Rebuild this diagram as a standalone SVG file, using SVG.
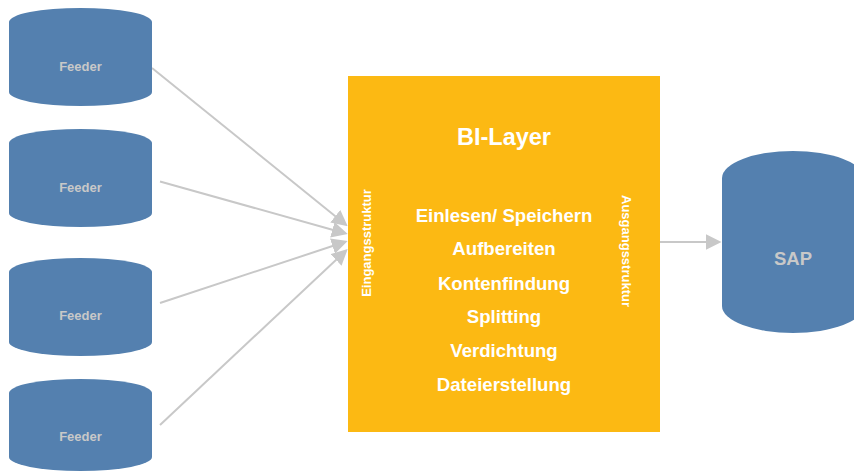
<svg xmlns="http://www.w3.org/2000/svg" width="854" height="471" viewBox="0 0 854 471">
<style>
text{font-family:"Liberation Sans",Arial,sans-serif;font-weight:bold;text-anchor:middle}
.db{fill:#5480af}
.f{font-size:13px;fill:#c8c8c8}
.m{font-size:18.6px;fill:#fff}
.r{font-size:13px;fill:#fff}
.c{stroke:#c8c8c8;stroke-width:2;fill:none;marker-end:url(#a)}
</style>
<defs><marker id="a" markerUnits="userSpaceOnUse" markerWidth="16" markerHeight="16" refX="12" refY="8" orient="auto"><path d="M0 0L16 8L0 16Z" fill="#c8c8c8"/></marker></defs>
<rect width="854" height="471" fill="#fff"/>
<g id="connectors">
<path class="c" d="M152 68L344.600 223.700"/>
<path class="c" d="M160 181.500L343.900 233"/>
<path class="c" d="M160 303L343.900 242.300"/>
<path class="c" d="M160 425L344.800 251.700"/>
<path class="c" d="M660 242L717.500 242"/>
</g>
<g id="feeder1"><path class="db" d="M9 22A71.500 14 0 0 1 152 22V92A71.500 14 0 0 1 9 92Z"/><text class="f" x="80.500" y="71">Feeder</text></g>
<g id="feeder2"><path class="db" d="M9 143A71.500 14 0 0 1 152 143V213A71.500 14 0 0 1 9 213Z"/><text class="f" x="80.500" y="192">Feeder</text></g>
<g id="feeder3"><path class="db" d="M9 272A71.500 14 0 0 1 152 272V342A71.500 14 0 0 1 9 342Z"/><text class="f" x="80.500" y="320">Feeder</text></g>
<g id="feeder4"><path class="db" d="M9 393A71.500 14 0 0 1 152 393V457A71.500 14 0 0 1 9 457Z"/><text class="f" x="80.500" y="441">Feeder</text></g>
<g id="bi-layer"><rect x="348" y="76" width="312" height="356" fill="#fcb913"/>
<text x="504" y="145" font-size="23.500px" fill="#fff">BI-Layer</text>
<text class="m" x="504" y="222">Einlesen/ Speichern</text>
<text class="m" x="504" y="255">Aufbereiten</text>
<text class="m" x="504" y="290">Kontenfindung</text>
<text class="m" x="504" y="323">Splitting</text>
<text class="m" x="504" y="357">Verdichtung</text>
<text class="m" x="504" y="391">Dateierstellung</text>
<text class="r" transform="translate(371 243) rotate(-90)">Eingangsstruktur</text>
<text class="r" transform="translate(622 251) rotate(90)" textLength="112" lengthAdjust="spacing">Ausgangsstruktur</text></g>
<g id="sap"><path class="db" d="M722 178A71 27 0 0 1 864 178V306A71 27 0 0 1 722 306Z"/><text x="793" y="265" font-size="18.500px" fill="#c8c8c8">SAP</text></g>
</svg>
